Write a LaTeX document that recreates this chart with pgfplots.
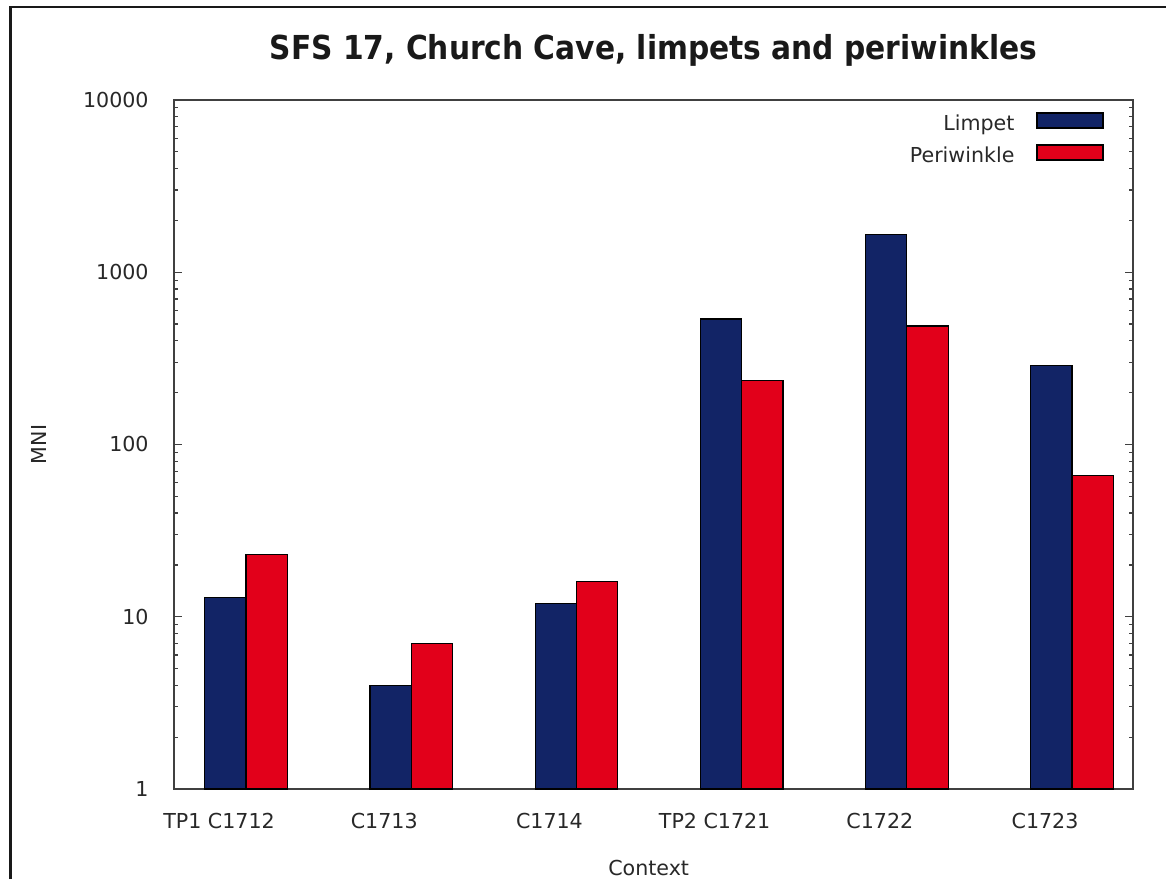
\documentclass[border=0pt]{standalone}
\usepackage{fontspec}
\setmainfont{DejaVu Sans}
\newfontfamily\titlefont{DejaVu Sans Condensed}
\usepackage{pgfplots}
\pgfplotsset{compat=1.18}
\definecolor{limpet}{RGB}{18,36,102}
\definecolor{peri}{RGB}{226,0,26}
\definecolor{axgray}{RGB}{64,64,64}
\definecolor{txt}{RGB}{40,40,40}
\begin{document}
\begin{tikzpicture}
\useasboundingbox (0,0) rectangle (583pt,439.5pt);
\fill[white] (0,0) rectangle (583pt,439.5pt);
\draw[line width=1.2pt, black!90] (5.2pt,0) -- (5.2pt,436pt);
\draw[line width=0.8pt, black!90] (4.6pt,436pt) -- (583pt,436pt);
\begin{axis}[
  at={(87pt,45pt)}, anchor=south west,
  scale only axis, width=479.5pt, height=344.5pt,
  xmin=-0.436, xmax=5.369,
  ymode=log, ymin=1, ymax=10000,
  ytick={1,10,100,1000,10000},
  yticklabels={1,10,100,1000,10000},
  minor ytick={2,3,4,5,6,7,8,9,20,30,40,50,60,70,80,90,200,300,400,500,600,700,800,900,2000,3000,4000,5000,6000,7000,8000,9000},
  major tick length=4pt, minor tick length=2pt,
  tick style={axgray, line width=0.6pt},
  axis line style={axgray, line width=0.8pt},
  xtick={0,1,2,3,4,5},
  xticklabels={TP1 C1712, C1713, C1714, TP2 C1721, C1722, C1723},
  x tick style={draw=none},
  xticklabel style={anchor=base, yshift=-19.5pt, xshift=-13.5pt, inner sep=0pt, font=\fontsize{10.3pt}{12pt}\selectfont, text=txt},
  yticklabel style={anchor=east, xshift=-12.5pt, inner sep=0pt, font=\fontsize{10.3pt}{12pt}\selectfont, text=txt},
  xlabel={Context},
  xlabel style={at={(axis description cs:0.495,0)}, anchor=base, yshift=-43pt, inner sep=0pt, font=\fontsize{10.3pt}{12pt}\selectfont, text=txt},
  ylabel={MNI},
  ylabel style={at={(axis description cs:0,0.5)}, anchor=center, yshift=67.5pt, inner sep=0pt, font=\fontsize{10.3pt}{12pt}\selectfont, text=txt},
  title={SFS 17, Church Cave, limpets and periwinkles},
  title style={at={(axis description cs:0.5,1)}, anchor=base, yshift=14pt, inner sep=0pt, font=\titlefont\bfseries\fontsize{16.5pt}{19pt}\selectfont, text=black!90},
  legend style={draw=none, fill=none, at={(axis description cs:1,1)}, anchor=north east, xshift=-14.5pt, yshift=-6pt,
    inner sep=0pt, row sep=4.5pt, column sep=11pt,
    nodes={inner sep=0pt, text height=7.5pt, text depth=2.5pt, font=\fontsize{10.3pt}{12pt}\selectfont, text=txt}},
  legend cell align=right,
  legend plot pos=right,
  legend image code/.code={\draw[#1, draw=black, line width=0.6pt] (0pt,-1.25pt) rectangle (33pt,6.25pt);},
]
\addplot[ybar, bar width=0.25, bar shift=-0.125, fill=limpet, draw=black, line width=0.6pt]
  coordinates {(0,13) (1,4) (2,12) (3,535) (4,1655) (5,289)};
\addlegendentry{Limpet}
\addplot[ybar, bar width=0.25, bar shift=0.125, fill=peri, draw=black, line width=0.6pt]
  coordinates {(0,23) (1,7) (2,16) (3,234) (4,488) (5,66)};
\addlegendentry{Periwinkle}
\end{axis}
\end{tikzpicture}
\end{document}
